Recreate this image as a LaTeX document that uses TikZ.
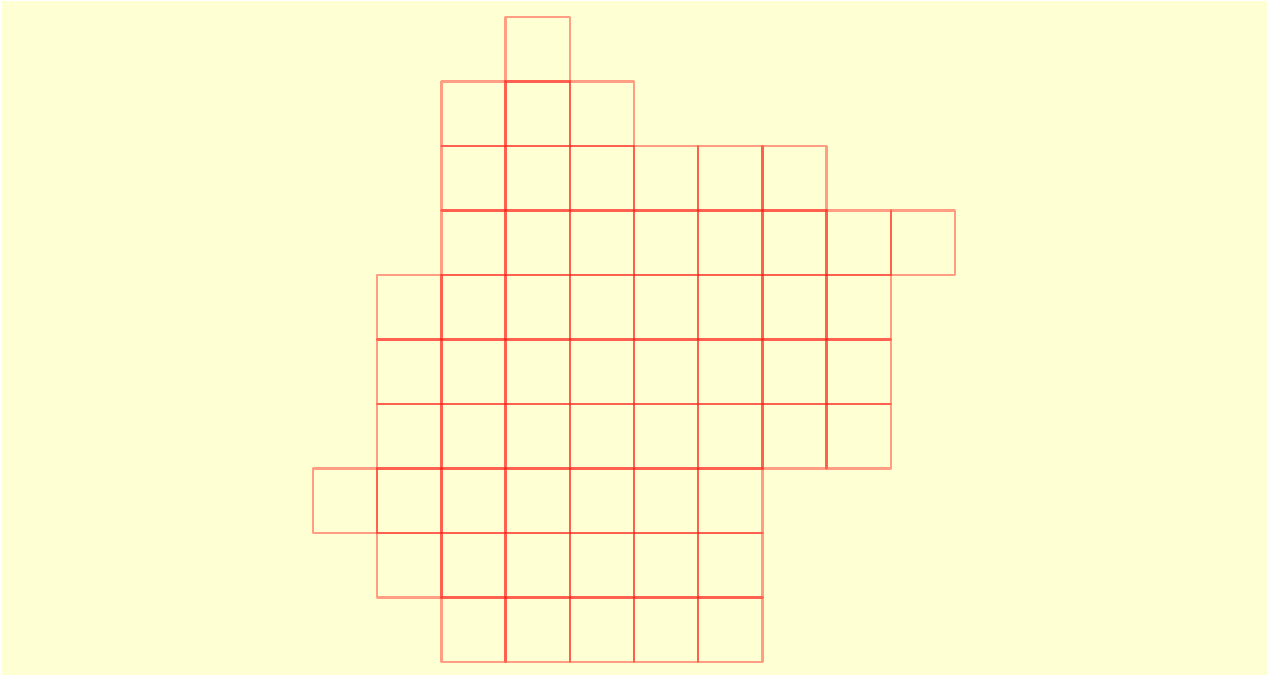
\documentclass[tikz,border=0pt]{standalone}
\begin{document}
\begin{tikzpicture}[x=1pt,y=-1pt,
  cellbox/.style={draw=red, draw opacity=0.38, line width=2.5pt, line join=round}]
\useasboundingbox (0,0) rectangle (1268,676);
\fill[white] (0,0) rectangle (1268,676);
\fill[fill={rgb,255:red,255;green,255;blue,212}] (1.5,1.5) rectangle (1266.5,674.5);
\def\cw{64.2}\def\ch{64.5}
\foreach \r/\a/\b in {0/3/3,1/2/4,2/2/7,3/2/9,4/1/8,5/1/8,6/1/8,7/0/6,8/1/6,9/2/6}{
  \foreach \c in {\a,...,\b}{
    \draw[cellbox] ({313+\c*\cw},{17+\r*\ch}) rectangle ({313+(\c+1)*\cw},{17+(\r+1)*\ch});
  }
}
\end{tikzpicture}
\end{document}
